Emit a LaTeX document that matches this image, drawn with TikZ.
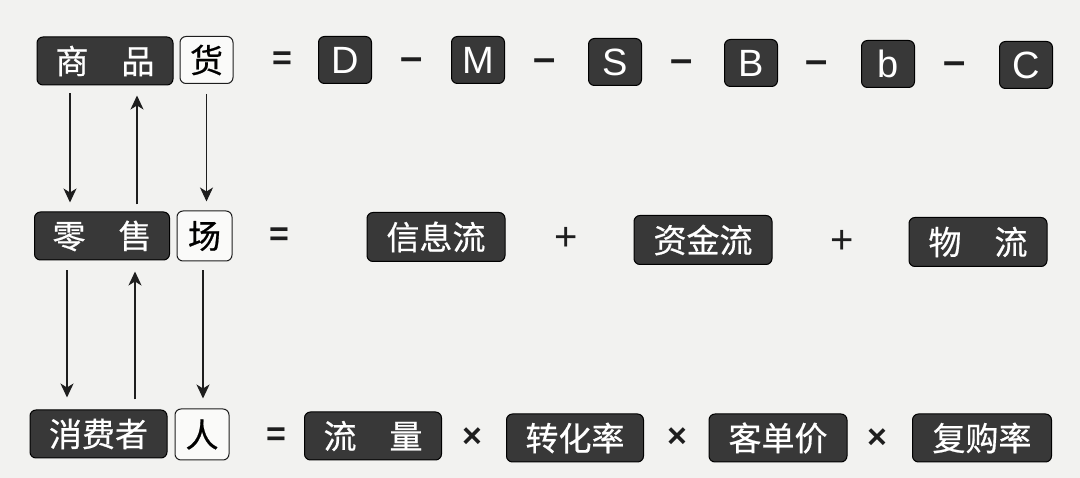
\documentclass[tikz,border=0pt]{standalone}
\usepackage{fontspec}
\usetikzlibrary{arrows.meta}
\newfontfamily\cjk{Noto Sans CJK SC}[FakeBold=0.6]
\newfontfamily\lsans{Liberation Sans}
\definecolor{paper}{HTML}{F2F2F0}
\definecolor{boxgray}{HTML}{383838}
\definecolor{inkc}{HTML}{1E1E1E}
\begin{document}
\begin{tikzpicture}[x=1pt,y=-1pt,
  darkbox/.style={draw=black, fill=boxgray, rounded corners=6pt, text=white, line width=1pt, inner sep=0pt,
    font=\cjk\fontsize{33}{33}\selectfont},
  letterbox/.style={darkbox, font=\lsans\fontsize{38}{38}\selectfont, minimum width=53pt, minimum height=47pt},
  lightbox/.style={draw=inkc, fill=white!60!paper, rounded corners=6pt, text=black, line width=1pt, inner sep=0pt,
    font=\cjk\fontsize{33}{33}\selectfont},
  op/.style={inner sep=0pt, text=inkc, font=\lsans\bfseries\fontsize{34}{34}\selectfont},
  dashop/.style={op, font=\lsans\bfseries\fontsize{40}{40}\selectfont, text height=23pt, text depth=0pt},
  plusop/.style={op, font=\lsans\fontsize{40}{40}\selectfont},
  timesop/.style={op, font=\lsans\bfseries\fontsize{34}{34}\selectfont},
  arr/.style={draw=inkc, line width=1.3pt, -{Stealth[length=14pt,width=13pt,inset=4pt]}}
]
\fill[paper] (0,0) rectangle (1080,478);
\useasboundingbox (0,0) rectangle (1080,478);

% Row 1
\node[darkbox, minimum width=136pt, minimum height=48pt] (sp) at (105,61) {商\hspace{1em}品};
\node[lightbox, minimum width=53pt, minimum height=47pt] (huo) at (206.5,60) {货};
\node[op] (eq1) at (282,61) {=};
\node[letterbox] (D) at (345,60) {D};
\node[dashop] (d1) at (412,59) {–};
\node[letterbox] (M) at (478,60) {M};
\node[dashop] (d2) at (545,60) {–};
\node[letterbox] (S) at (615,62) {S};
\node[dashop] (d3) at (682,61) {–};
\node[letterbox] (B) at (751,63) {B};
\node[dashop] (d4) at (817,62) {–};
\node[letterbox] (b) at (888,64) {b};
\node[dashop] (d5) at (955,63) {–};
\node[letterbox] (C) at (1026,65) {C};

% Row 2
\node[darkbox, minimum width=135pt, minimum height=48pt] (ls) at (102,236) {零\hspace{1em}售};
\node[lightbox, minimum width=55pt, minimum height=50pt] (chang) at (204.5,236) {场};
\node[op] (eq2) at (279,237) {=};
\node[darkbox, minimum width=138pt, minimum height=49pt] (xx) at (436,237) {信息流};
\node[plusop] (p1) at (566,239) {+};
\node[darkbox, minimum width=138pt, minimum height=49pt] (zj) at (703,240) {资金流};
\node[plusop] (p2) at (842,242) {+};
\node[darkbox, minimum width=138pt, minimum height=49pt] (wl) at (978,242) {物\hspace{1em}流};

% Row 3
\node[darkbox, minimum width=137pt, minimum height=48pt] (xfz) at (98.5,434) {消费者};
\node[lightbox, minimum width=54pt, minimum height=51pt] (ren) at (202,434.5) {人};
\node[op] (eq3) at (276,437) {=};
\node[darkbox, minimum width=137pt, minimum height=48pt] (ll) at (373,436) {流\hspace{1em}量};
\node[timesop] (m1) at (472,438) {×};
\node[darkbox, minimum width=137pt, minimum height=48pt] (zh) at (575,438) {转化率};
\node[timesop] (m2) at (677,438) {×};
\node[darkbox, minimum width=138pt, minimum height=48pt] (kd) at (778,438) {客单价};
\node[timesop] (m3) at (877,439) {×};
\node[darkbox, minimum width=139pt, minimum height=48pt] (fg) at (982,438) {复购率};

% Arrows between rows 1 and 2
\coordinate (a1) at ([shift={(-35,0)}]sp.south);
\coordinate (a2) at ([shift={(32,0)}]sp.south);
\draw[arr, shorten <=8pt, shorten >=9pt] (a1) -- (a1 |- ls.north);
\draw[arr, shorten <=7pt, shorten >=10pt] (a2 |- ls.north) -- (a2);
\draw[arr, shorten <=10pt, shorten >=9pt] (huo.south) -- (huo.south |- chang.north);

% Arrows between rows 2 and 3
\coordinate (a4) at ([shift={(-35,0)}]ls.south);
\coordinate (a5) at ([shift={(33,0)}]ls.south);
\draw[arr, shorten <=10pt, shorten >=12pt] (a4) -- (a4 |- xfz.north);
\draw[arr, shorten <=10pt, shorten >=11pt] (a5 |- xfz.north) -- (a5);
\draw[arr, shorten <=9pt, shorten >=10pt] ([xshift=-1.5pt]chang.south) -- ([xshift=-1.5pt]chang.south |- ren.north);
\end{tikzpicture}
\end{document}
